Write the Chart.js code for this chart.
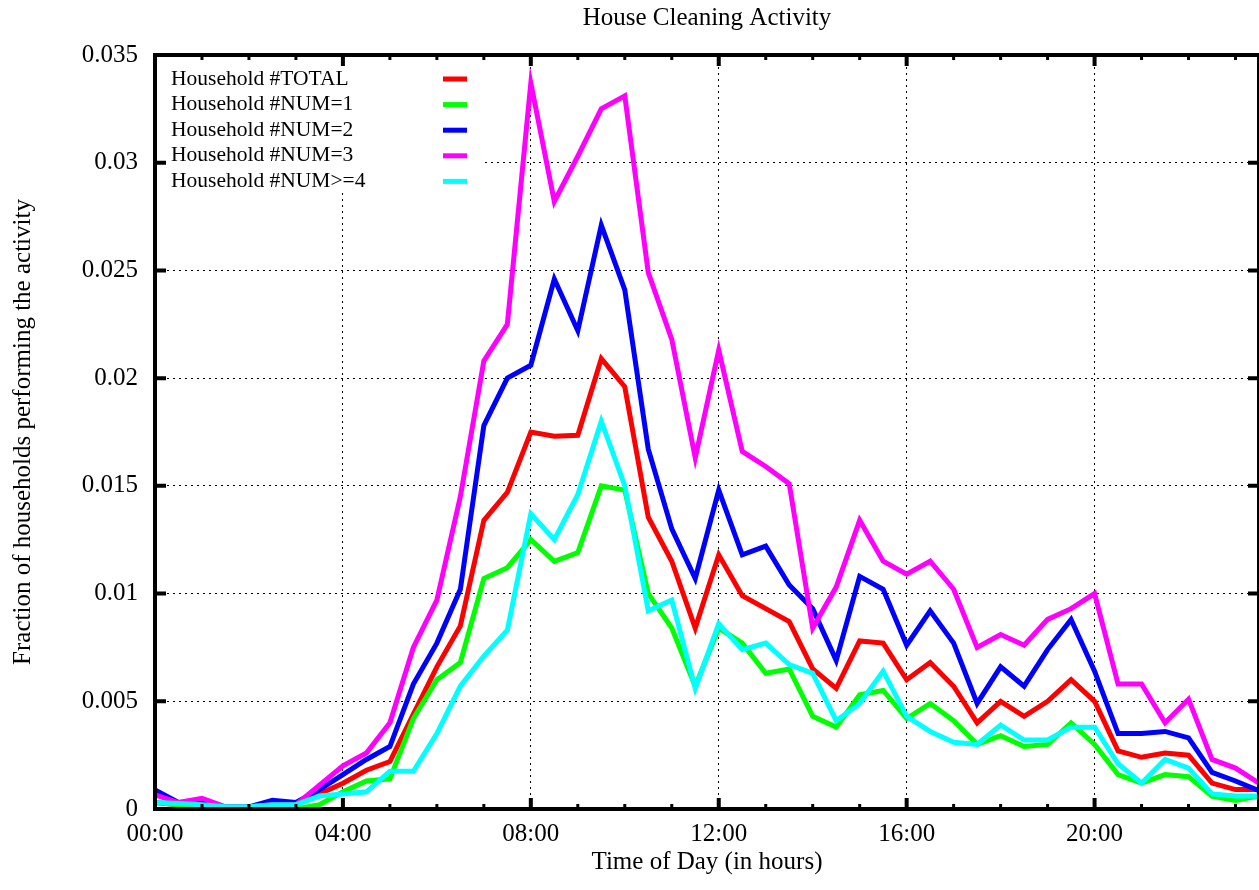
<!DOCTYPE html>
<html>
<head>
<meta charset="utf-8">
<title>House Cleaning Activity</title>
<script src="https://cdn.jsdelivr.net/npm/chart.js@4.4.1/dist/chart.umd.min.js"></script>
<style>
  html, body { margin: 0; padding: 0; background: #fff; }
  canvas { display: block; }
</style>
</head>
<body>
<canvas id="cleaningChart" width="1259" height="890"></canvas>
<script>
// half-hour slots, in hours
const hours = [
    0, 0.5, 1, 1.5, 2, 2.5, 3, 3.5, 4, 4.5, 5, 5.5,
    6, 6.5, 7, 7.5, 8, 8.5, 9, 9.5, 10, 10.5, 11, 11.5,
    12, 12.5, 13, 13.5, 14, 14.5, 15, 15.5, 16, 16.5, 17, 17.5,
    18, 18.5, 19, 19.5, 20, 20.5, 21, 21.5, 22, 22.5, 23, 23.5
];

const totalVals = [
    0.0003, 0.0002, 0.0002, 0.0001, 0.0001, 0.0002, 0.0002, 0.0007, 0.0012, 0.0018, 0.0022, 0.0044,
    0.0066, 0.0085, 0.0134, 0.0147, 0.0175, 0.0173, 0.01735, 0.0209, 0.0196, 0.01355, 0.0115, 0.0084,
    0.0118, 0.0099, 0.0093, 0.0087, 0.0065, 0.0056, 0.0078, 0.0077, 0.0060, 0.0068, 0.0057, 0.0040,
    0.0050, 0.0043, 0.0050, 0.0060, 0.0050, 0.0027, 0.0024, 0.0026, 0.0025, 0.0012, 0.0009, 0.0009
];
const num1Vals = [
    0.0003, 0.0002, 0.0001, 0.0001, 0.0000, 0.0001, 0.0000, 0.0002, 0.0008, 0.0013, 0.0014, 0.0042,
    0.0060, 0.0068, 0.0107, 0.0112, 0.0125, 0.0115, 0.0119, 0.0150, 0.0148, 0.0100, 0.0084, 0.0057,
    0.0084, 0.0077, 0.0063, 0.0065, 0.0043, 0.0038, 0.0053, 0.0055, 0.0042, 0.0049, 0.0041, 0.0030,
    0.0034, 0.0029, 0.0030, 0.0040, 0.0030, 0.0016, 0.0012, 0.0016, 0.0015, 0.0006, 0.0004, 0.0006
];
const num2Vals = [
    0.00088, 0.0003, 0.00035, 0.0001, 0.0001, 0.0004, 0.0003, 0.0009, 0.0016, 0.0023, 0.0029, 0.0058,
    0.0077, 0.0102, 0.0178, 0.0200, 0.0206, 0.0246, 0.0222, 0.0271, 0.0241, 0.0167, 0.0130, 0.0107,
    0.0148, 0.0118, 0.0122, 0.0104, 0.0093, 0.0069, 0.0108, 0.0102, 0.0076, 0.0092, 0.0077, 0.0049,
    0.0066, 0.0057, 0.0074, 0.0088, 0.0064, 0.0035, 0.0035, 0.0036, 0.0033, 0.0017, 0.0013, 0.00085
];
const num3Vals = [
    0.00065, 0.0003, 0.0005, 0.0001, 0.0001, 0.0002, 0.0002, 0.0011, 0.0020, 0.0026, 0.0040, 0.0075,
    0.0097, 0.0145, 0.0208, 0.0225, 0.0337, 0.0282, 0.0303, 0.0325, 0.0331, 0.0249, 0.0218, 0.0163,
    0.0213, 0.0166, 0.0159, 0.0151, 0.0084, 0.0103, 0.0134, 0.0115, 0.0109, 0.0115, 0.0102, 0.0075,
    0.0081, 0.0076, 0.0088, 0.0093, 0.0100, 0.0058, 0.0058, 0.0040, 0.0051, 0.0023, 0.0019, 0.0012
];
const num4Vals = [
    0.0003, 0.00025, 0.0002, 0.0001, 0.0001, 0.0002, 0.0002, 0.0006, 0.0007, 0.0008, 0.00175, 0.00175,
    0.0035, 0.0057, 0.0071, 0.0083, 0.0137, 0.0125, 0.0146, 0.0180, 0.0150, 0.0092, 0.0097, 0.0056,
    0.0086, 0.0074, 0.0077, 0.0067, 0.0063, 0.0041, 0.0049, 0.0064, 0.0043, 0.0036, 0.0031, 0.0030,
    0.0039, 0.0032, 0.0032, 0.0038, 0.0038, 0.0021, 0.0012, 0.0023, 0.0019, 0.0007, 0.0006, 0.0006
];

const seriesNames = ['Household #TOTAL', 'Household #NUM=1', 'Household #NUM=2', 'Household #NUM=3', 'Household #NUM>=4'];
const seriesColors = ['#ff0000', '#00ff00', '#0000ff', '#ff00ff', '#00ffff'];

const xTickHours = [0, 4, 8, 12, 16, 20];
const xTickLabels = ['00:00', '04:00', '08:00', '12:00', '16:00', '20:00'];
const yTickValues = [0, 0.005, 0.01, 0.015, 0.02, 0.025, 0.03, 0.035];
const yTickLabels = ['0', '0.005', '0.01', '0.015', '0.02', '0.025', '0.03', '0.035'];

const FONT = "'Liberation Serif', 'Times New Roman', serif";

// gnuplot-like frame: thick border, inward tick marks, opaque key in the top-left
const gnuFrame = {
    id: 'gnuFrame',
    beforeDatasetsDraw(chart) {
        const { ctx, chartArea: a } = chart;
        ctx.save();
        ctx.fillStyle = '#fff';
        ctx.fillRect(a.left, a.top, 327, 138);
        ctx.restore();
    },
    afterDatasetsDraw(chart) {
        const { ctx, chartArea: a, scales } = chart;
        const xs = scales.x, ys = scales.y;
        ctx.save();
        ctx.strokeStyle = '#000';
        ctx.lineCap = 'butt';

        // minor ticks every hour
        ctx.lineWidth = 3;
        for (let h = 1; h < 24; h++) {
            if (xTickHours.includes(h)) continue;
            const px = xs.getPixelForValue(h);
            if (px > a.right - 2) continue;
            ctx.beginPath();
            ctx.moveTo(px, a.bottom); ctx.lineTo(px, a.bottom - 5);
            ctx.moveTo(px, a.top); ctx.lineTo(px, a.top + 5);
            ctx.stroke();
        }
        // major ticks
        ctx.lineWidth = 4;
        xTickHours.forEach(h => {
            const px = xs.getPixelForValue(h);
            ctx.beginPath();
            ctx.moveTo(px, a.bottom); ctx.lineTo(px, a.bottom - 11);
            ctx.moveTo(px, a.top); ctx.lineTo(px, a.top + 11);
            ctx.stroke();
        });
        yTickValues.forEach(v => {
            const py = ys.getPixelForValue(v);
            ctx.beginPath();
            ctx.moveTo(a.left, py); ctx.lineTo(a.left + 11, py);
            ctx.moveTo(a.right, py); ctx.lineTo(a.right - 11, py);
            ctx.stroke();
        });

        ctx.lineWidth = 4;
        ctx.strokeRect(a.left, a.top, a.right - a.left, a.bottom - a.top);

        // key
        ctx.font = '21.5px ' + FONT;
        ctx.textAlign = 'left';
        ctx.textBaseline = 'middle';
        ctx.lineWidth = 5;
        chart.data.datasets.forEach((ds, i) => {
            const y = a.top + 24 + i * 25.6;
            ctx.fillStyle = '#000';
            ctx.fillText(ds.label, a.left + 16, y);
            ctx.strokeStyle = ds.borderColor;
            ctx.beginPath();
            ctx.moveTo(a.left + 288, y);
            ctx.lineTo(a.left + 312, y);
            ctx.stroke();
        });
        ctx.restore();
    }
};

const seriesData = [totalVals, num1Vals, num2Vals, num3Vals, num4Vals];

const datasets = seriesData.map((vals, i) => ({
    label: seriesNames[i],
    data: vals,
    borderColor: seriesColors[i],
    backgroundColor: seriesColors[i],
    borderWidth: 5,
    borderJoinStyle: 'miter',
    pointRadius: 0,
    tension: 0,
    fill: false,
    order: seriesData.length - i   // later series painted on top, like gnuplot
}));

new Chart(document.getElementById('cleaningChart'), {
    type: 'line',
    data: { labels: hours, datasets: datasets },
    options: {
        responsive: false,
        animation: false,
        layout: { padding: 0 },
        plugins: {
            legend: { display: false },
            tooltip: { enabled: false },
            title: {
                display: true,
                text: 'House Cleaning Activity',
                fullSize: false,
                color: '#000',
                font: { family: FONT, size: 25, weight: 'normal' },
                padding: { top: 3, bottom: 22 }
            }
        },
        scales: {
            x: {
                type: 'linear',
                min: 0,
                max: 23.5,
                afterBuildTicks: s => { s.ticks = xTickHours.map(v => ({ value: v })); },
                afterFit: s => { s.height = 81; },
                ticks: {
                    color: '#000',
                    font: { family: FONT, size: 25 },
                    padding: 10,
                    maxRotation: 0,
                    callback: (v, i) => xTickLabels[i]
                },
                grid: { color: '#000', lineWidth: 1, drawTicks: false },
                border: { display: false, dash: [2, 4] },
                title: {
                    display: true,
                    text: 'Time of Day (in hours)',
                    color: '#000',
                    font: { family: FONT, size: 25 },
                    padding: { top: 0, bottom: 13 }
                }
            },
            y: {
                min: 0,
                max: 0.035,
                afterBuildTicks: s => { s.ticks = yTickValues.map(v => ({ value: v })); },
                afterFit: s => { s.width = 155; },
                ticks: {
                    color: '#000',
                    font: { family: FONT, size: 25 },
                    padding: 17,
                    callback: (v, i) => yTickLabels[i]
                },
                grid: { color: '#000', lineWidth: 1, drawTicks: false },
                border: { display: false, dash: [2, 4] },
                title: {
                    display: true,
                    text: 'Fraction of households performing the activity',
                    color: '#000',
                    font: { family: FONT, size: 25 },
                    padding: { top: 8, bottom: 0 }
                }
            }
        }
    },
    plugins: [gnuFrame]
});
</script>
</body>
</html>
